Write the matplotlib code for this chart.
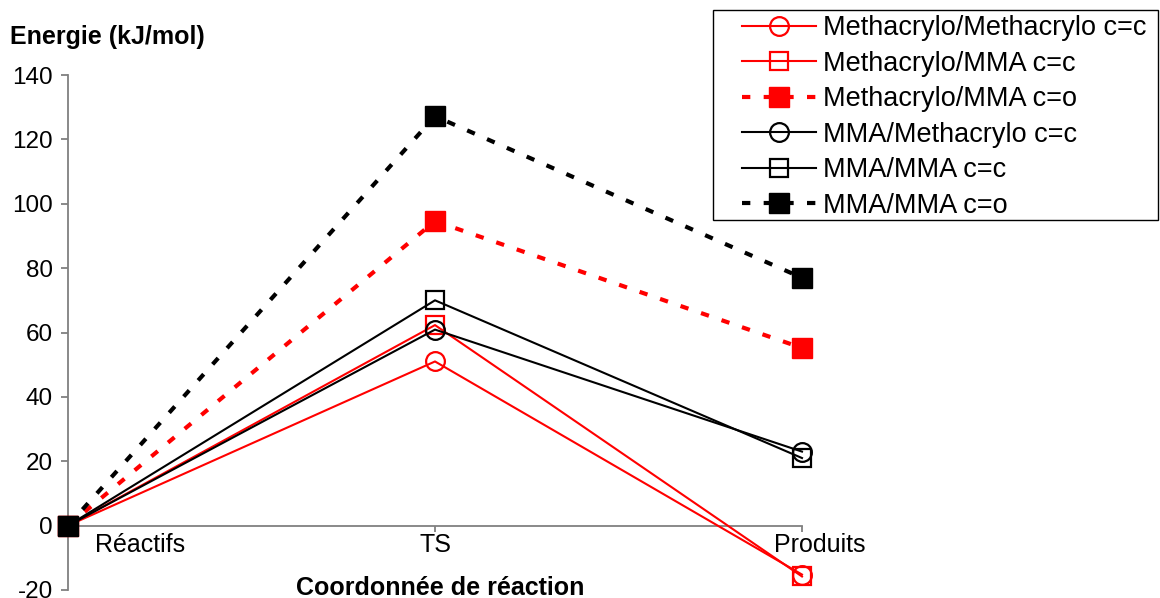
import matplotlib.pyplot as plt
from matplotlib.patches import Rectangle

plt.rcParams['font.family'] = ['Liberation Sans', 'DejaVu Sans']
plt.rcParams['axes.unicode_minus'] = False

# donnees
etapes = ['Réactifs', 'TS', 'Produits']
noms = ['Methacrylo/Methacrylo c=c', 'Methacrylo/MMA c=c', 'Methacrylo/MMA c=o',
        'MMA/Methacrylo c=c', 'MMA/MMA c=c', 'MMA/MMA c=o']
meth_meth_cc = [0, 51, -15.2]
meth_mma_cc = [0, 62.3, -15.8]
meth_mma_co = [0, 94.6, 55.2]
mma_meth_cc = [0, 60.9, 23]
mma_mma_cc = [0, 70, 21]
mma_mma_co = [0, 127.2, 77]
yticks = [-20, 0, 20, 40, 60, 80, 100, 120, 140]

series = [meth_meth_cc, meth_mma_cc, meth_mma_co, mma_meth_cc, mma_mma_cc, mma_mma_co]
couleurs = ['red', 'red', 'red', 'black', 'black', 'black']
marqueurs = ['o', 's', 's', 'o', 's', 's']
pleins = [False, False, True, False, False, True]

fig = plt.figure(figsize=(11.6, 5.98), dpi=100)
ax = fig.add_axes([68/1160, 1-590/598, (802-68)/1160, (590-75)/598])

x = range(len(etapes))
for y, nom, c, m, p in zip(series, noms, couleurs, marqueurs, pleins):
    if p:
        ax.plot(x, y, color=c, lw=3, ls=(0, (2, 3.2)), marker=m, ms=14.5,
                mfc=c, mec=c, label=nom, clip_on=False, zorder=3)
    else:
        ax.plot(x, y, color=c, lw=1.5, marker=m, ms=13.5, mfc='none', mec=c,
                mew=1.6, label=nom, clip_on=False, zorder=3)

ax.set_xlim(0, 2)
ax.set_ylim(-20, 140)
ax.set_yticks(yticks)
ax.tick_params(axis='y', labelsize=17.5, color='#808080', length=5, width=1.3, pad=6)
ax.spines['left'].set_color('#808080')
ax.spines['left'].set_linewidth(1.3)
ax.spines['bottom'].set_position(('data', 0))
ax.spines['bottom'].set_color('#808080')
ax.spines['bottom'].set_linewidth(1.3)
ax.spines['top'].set_visible(False)
ax.spines['right'].set_visible(False)
ax.set_xticks([1, 2])
ax.set_xticklabels([])
ax.tick_params(axis='x', color='#808080', length=4, width=1.3)

# etiquettes des categories
decal = [72, 0, 18]
for i, (lab, d) in enumerate(zip(etapes, decal)):
    ax.annotate(lab, (i, 0), xytext=(d, -7), textcoords='offset pixels',
                ha='center', va='top', fontsize=18)

fig.text(10/1160, 1-37/598, 'Energie (kJ/mol)', fontsize=18, fontweight='bold', va='center')
fig.text(440/1160, 1-588/598, 'Coordonnée de réaction', fontsize=18, fontweight='bold',
         ha='center', va='center')

# cadre de la legende
fig.patches.append(Rectangle((713/1160, 1-220/598), 445/1160, 210/598, transform=fig.transFigure,
                             fill=False, edgecolor='black', lw=1))
leg = fig.legend(loc='center left', bbox_to_anchor=(742/1160, 1-117/598), fontsize=19.5,
                 frameon=False, handlelength=2.75, labelspacing=0.35, borderpad=0,
                 handletextpad=0.25, borderaxespad=0)

plt.savefig('out.png', dpi=100)
